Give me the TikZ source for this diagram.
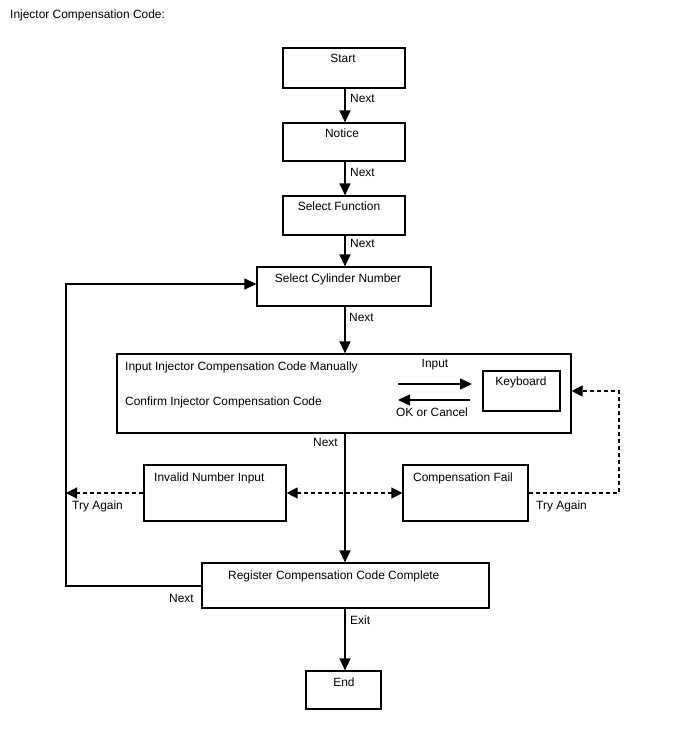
\documentclass[tikz,border=0pt]{standalone}
\usepackage{fontspec}
\setmainfont{Liberation Sans}
\usetikzlibrary{arrows.meta}
\begin{document}
\begin{tikzpicture}[x=1pt,y=-1pt,
  every node/.style={font=\fontsize{11.95}{13}\selectfont, inner sep=0pt},
  box/.style={draw, line width=1.2pt, inner sep=0pt},
  txt/.style={anchor=base},
  txtl/.style={anchor=base west},
  flow/.style={line width=1.4pt, -{Triangle[length=12pt,width=11pt]}},
  dsh/.style={line width=1.2pt, dash pattern=on 4pt off 3pt}
]
\useasboundingbox (0,0) rectangle (688,755);
\fill[white] (0,0) rectangle (688,755);

\node[txtl] (title) at (10,18) {Injector Compensation Code:};

% boxes
\node[box, minimum width=122pt, minimum height=40pt] (start) at (344,68) {};
\node[box, minimum width=122pt, minimum height=38pt] (notice) at (344,142) {};
\node[box, minimum width=122pt, minimum height=39pt] (func) at (344,215.5) {};
\node[box, minimum width=174pt, minimum height=39pt] (cyl) at (344,286.5) {};
\node[box, minimum width=454pt, minimum height=79pt] (big) at (344,393.5) {};
\node[box, minimum width=77pt, minimum height=40pt] (kb) at (521.5,391) {};
\node[box, minimum width=142pt, minimum height=56pt] (inv) at (215,493) {};
\node[box, minimum width=125pt, minimum height=56pt] (cf) at (465.5,493) {};
\node[box, minimum width=287pt, minimum height=45pt] (reg) at (345.5,585.5) {};
\node[box, minimum width=75pt, minimum height=38pt] (end) at (343.5,690) {};

% box texts
\node[txt] (tstart) at (343,62) {Start};
\node[txt] (tnotice) at (342,137) {Notice};
\node[txt] (tfunc) at (339,210) {Select Function};
\node[txt] (tcyl) at (338,282) {Select Cylinder Number};
\node[txtl] (tin) at (125,370) {Input Injector Compensation Code Manually};
\node[txtl] (tconf) at (125,405) {Confirm Injector Compensation Code};
\node[txt] (tinput) at (435,367) {Input};
\node[txt] (tok) at (432,416) {OK or Cancel};
\node[txt] (tkb) at (521,385) {Keyboard};
\node[txtl] (tinv) at (154,481) {Invalid Number Input};
\node[txtl] (tcf) at (413,481) {Compensation Fail};
\node[txtl] (ttry1) at (72,509) {Try Again};
\node[txtl] (ttry2) at (536,509) {Try Again};
\node[txtl] (treg) at (228,579) {Register Compensation Code Complete};
\node[txt] (tend) at (344,686) {End};

% labels
\node[txtl] (n1) at (350,102) {Next};
\node[txtl] (n2) at (350,176) {Next};
\node[txtl] (n3) at (350,247) {Next};
\node[txtl] (n4) at (349,321) {Next};
\node[txtl] (n5) at (313,446) {Next};
\node[txtl] (n6) at (169,602) {Next};
\node[txtl] (ex) at (350,624) {Exit};

% main flow
\draw[flow] (start.south -| 345,0) -- (notice.north -| 345,0);
\draw[flow] (notice.south -| 345,0) -- (func.north -| 345,0);
\draw[flow] (func.south -| 345,0) -- (cyl.north -| 345,0);
\draw[flow] (cyl.south -| 345,0) -- (big.north -| 345,0);
\draw[flow] (big.south -| 345,0) -- (reg.north -| 345,0);
\draw[flow] (reg.south -| 345,0) -- (end.north -| 345,0);

% loop back
\coordinate (lb) at (66,586);
\coordinate (lt) at (66,284);
\draw[line width=1.1pt, -{Triangle[length=12pt,width=11pt]}] (reg.west |- lb) -- (lb) -- (lt) -- (cyl.west |- lt);

% inner arrows
\coordinate (a1s) at (398,384);
\coordinate (a1e) at (472,384);
\coordinate (a2s) at (470,400);
\coordinate (a2e) at (398,400);
\draw[line width=1.4pt, -{Triangle[length=12pt,width=11pt]}] (a1s) -- (a1e);
\draw[line width=1.4pt, -{Triangle[length=12pt,width=11pt]}] (a2s) -- (a2e);

% dashed
\coordinate (dl) at (66,493);
\draw[dsh, -{Triangle[length=11pt,width=11pt]}] (inv.west) -- (dl);
\draw[dsh, {Triangle[length=11pt,width=11pt]}-{Triangle[length=11pt,width=11pt]}] (inv.east) -- (cf.west);
\coordinate (dr) at (619,493);
\coordinate (drt) at (619,391);
\draw[dsh, -{Triangle[length=11pt,width=11pt]}] (cf.east) -- (dr) -- (drt) -- (big.east |- drt);
\end{tikzpicture}
\end{document}
